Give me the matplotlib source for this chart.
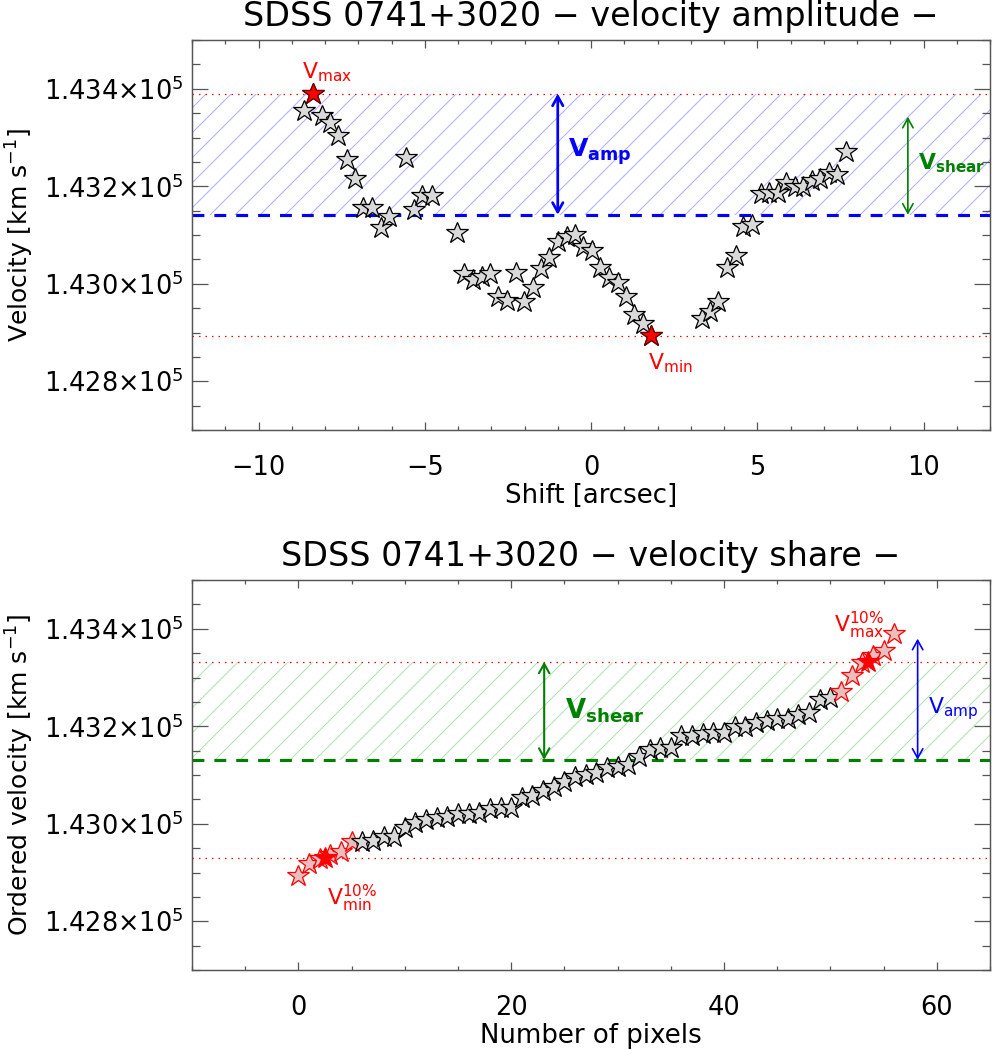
import numpy as np
import matplotlib
matplotlib.use("Agg")
import matplotlib.pyplot as plt
from matplotlib.ticker import MultipleLocator, FuncFormatter

# shift along the slit [arcsec] and measured velocity [km/s]
shift = [-8.63, -8.37, -8.10, -7.85, -7.60, -7.35, -7.10, -6.85, -6.58, -6.33,
         -6.08, -5.56, -5.31, -5.07, -4.79, -4.04, -3.82, -3.56, -3.29, -3.04,
         -2.79, -2.52, -2.26, -2.01, -1.75, -1.50, -1.25, -0.98, -0.73, -0.48,
         -0.23, 0.02, 0.27, 0.55, 0.80, 1.05, 1.30, 1.55, 1.80, 3.33,
         3.58, 3.83, 4.08, 4.35, 4.58, 4.85, 5.10, 5.35, 5.61, 5.86,
         6.14, 6.39, 6.64, 6.89, 7.17, 7.41, 7.67]
velocity = [143355, 143390, 143344, 143330, 143304, 143254, 143215, 143155, 143156, 143115,
            143136, 143257, 143151, 143179, 143180, 143105, 143019, 143008, 143013, 143019,
            142973, 142965, 143022, 142963, 142991, 143030, 143052, 143086, 143095, 143100,
            143076, 143068, 143032, 143011, 143002, 142972, 142936, 142918, 142893, 142927,
            142943, 142963, 143032, 143056, 143117, 143121, 143184, 143186, 143186, 143207,
            143198, 143199, 143211, 143214, 143227, 143223, 143271]
n_frac = 6  # 10% of the pixels

plt.rcParams['font.family'] = 'DejaVu Sans'
plt.rcParams['mathtext.default'] = 'regular'
plt.rcParams['hatch.linewidth'] = 0.5

v = np.array(velocity, dtype=float)
s = np.array(shift)
vmax, vmin = v.max(), v.min()
imax, imin = v.argmax(), v.argmin()
vmid = (vmax + vmin) / 2
vamp = (vmax - vmin) / 2

order = np.sort(v)
idx = np.arange(len(order))
v10max = order[-n_frac:].mean()
v10min = order[:n_frac].mean()
vmid10 = (v10max + v10min) / 2
vshear = (v10max - v10min) / 2

DPI = 150
fig = plt.figure(figsize=(994 / DPI, 1050 / DPI), dpi=DPI)
ax1 = fig.add_axes([192 / 994, 1 - 430 / 1050, 798 / 994, 390 / 1050])
ax2 = fig.add_axes([192 / 994, 1 - 970 / 1050, 798 / 994, 390 / 1050])

gray = '#d9d9d9'
dotted = (0, (1.2, 4))
dashed = (0, (3.8, 3.2))
heads = '<->,head_length=0.45,head_width=0.25'


def style(ax, xmaj, xmin, xlim, title, xlabel, ylabel):
	ax.set_xlim(*xlim)
	ax.set_ylim(142700, 143500)
	ax.yaxis.set_major_locator(MultipleLocator(200))
	ax.yaxis.set_minor_locator(MultipleLocator(50))
	ax.xaxis.set_major_locator(MultipleLocator(xmaj))
	ax.xaxis.set_minor_locator(MultipleLocator(xmin))
	ax.yaxis.set_major_formatter(FuncFormatter(lambda y, p: r'$%.3f{\times}10^{5}$' % (y / 1e5)))
	ax.tick_params(which='both', direction='in', top=True, right=True, color='#555555', width=0.6)
	ax.tick_params(axis='y', which='major', length=7.7, labelsize=12.3, pad=4)
	ax.tick_params(axis='y', which='minor', length=3.8)
	ax.tick_params(axis='x', which='major', length=4, labelsize=12.3, pad=12)
	ax.tick_params(axis='x', which='minor', length=2)
	for sp in ax.spines.values():
		sp.set_color('#555555')
		sp.set_linewidth(0.7)
	ax.set_title(title, fontsize=16, pad=6.5)
	ax.set_xlabel(xlabel, fontsize=12.5)
	ax.set_ylabel(ylabel, fontsize=12)
	ax.xaxis.set_label_coords(0.5, -0.135)
	ax.yaxis.set_label_coords(-0.196, 0.5)


# --- velocity amplitude ---
ax1.axhspan(vmid, vmax, facecolor='none', edgecolor='#aeb0ff', hatch='//', linewidth=0)
ax1.axhline(vmax, color='red', lw=0.6, ls=dotted)
ax1.axhline(vmin, color='red', lw=0.6, ls=dotted)
ax1.axhline(vmid, color='blue', lw=1.5, ls=dashed)
ax1.plot(s, v, ls='none', marker='*', ms=11, mfc=gray, mec='black', mew=0.6)
ax1.plot(s[imax], vmax, ls='none', marker='*', ms=11, mfc='red', mec='#700000', mew=0.6)
ax1.plot(s[imin], vmin, ls='none', marker='*', ms=11, mfc='red', mec='#700000', mew=0.6)
ax1.annotate('', xy=(-1.0, vmax), xytext=(-1.0, vmid),
             arrowprops=dict(arrowstyle=heads, color='blue', lw=1.3, shrinkA=0, shrinkB=0))
ax1.annotate('', xy=(9.53, vmid + vshear), xytext=(9.53, vmid),
             arrowprops=dict(arrowstyle=heads, color='green', lw=0.8, shrinkA=0, shrinkB=0))
ax1.text(-8.69, 143433, r'$V_{max}$', color='red', fontsize=10.5, ha='left', va='center')
ax1.text(1.71, 142837, r'$V_{min}$', color='red', fontsize=10.5, ha='left', va='center')
ax1.text(-0.69, 143272, r'$\mathbf{V}_{\mathbf{amp}}$', color='blue', fontsize=12, ha='left', va='center')
ax1.text(9.83, 143247, r'$\mathbf{V}_{\mathbf{shear}}$', color='green', fontsize=10.5, ha='left', va='center')
style(ax1, 5, 1, (-12, 12), 'SDSS 0741+3020 \u2212 velocity amplitude \u2212',
      'Shift [arcsec]', r'Velocity [km s$^{-1}$]')

# --- velocity share ---
ax2.axhspan(vmid10, v10max, facecolor='none', edgecolor='#b4e0b4', hatch='//', linewidth=0)
ax2.axhline(v10max, color='red', lw=0.6, ls=dotted)
ax2.axhline(v10min, color='red', lw=0.6, ls=dotted)
ax2.axhline(vmid10, color='green', lw=1.5, ls=dashed)
lo = slice(0, n_frac)
mid = slice(n_frac, len(order) - n_frac)
hi = slice(len(order) - n_frac, len(order))
ax2.plot(idx[lo], order[lo], ls='none', marker='*', ms=11, mfc='#e6c0c0', mec='red', mew=0.6)
ax2.plot(idx[mid], order[mid], ls='none', marker='*', ms=11, mfc=gray, mec='black', mew=0.6)
ax2.plot(idx[hi], order[hi], ls='none', marker='*', ms=11, mfc='#e6c0c0', mec='red', mew=0.6)
ax2.plot(np.median(idx[lo]), v10min, ls='none', marker='*', ms=11, mfc='red', mec='red', mew=0.6)
ax2.plot(np.median(idx[hi]), v10max, ls='none', marker='*', ms=11, mfc='red', mec='red', mew=0.6)
ax2.annotate('', xy=(23.1, v10max), xytext=(23.1, vmid10),
             arrowprops=dict(arrowstyle=heads, color='green', lw=1.0, shrinkA=0, shrinkB=0))
ax2.annotate('', xy=(58.2, vmid10 + vamp), xytext=(58.2, vmid10),
             arrowprops=dict(arrowstyle=heads, color='blue', lw=0.8, shrinkA=0, shrinkB=0))
ax2.text(25.1, 143231, r'$\mathbf{V}_{\mathbf{shear}}$', color='green', fontsize=12.5, ha='left', va='center')
ax2.text(59.2, 143237, r'$V_{amp}$', color='blue', fontsize=10.5, ha='left', va='center')
ax2.text(50.3, 143407, r'$V^{10\%}_{max}$', color='red', fontsize=10.5, ha='left', va='center')
ax2.text(2.7, 142847, r'$V^{10\%}_{min}$', color='red', fontsize=10.5, ha='left', va='center')
style(ax2, 20, 5, (-10, 65), 'SDSS 0741+3020 \u2212 velocity share \u2212',
      'Number of pixels', r'Ordered velocity [km s$^{-1}$]')

fig.savefig('out.png', dpi=DPI)
